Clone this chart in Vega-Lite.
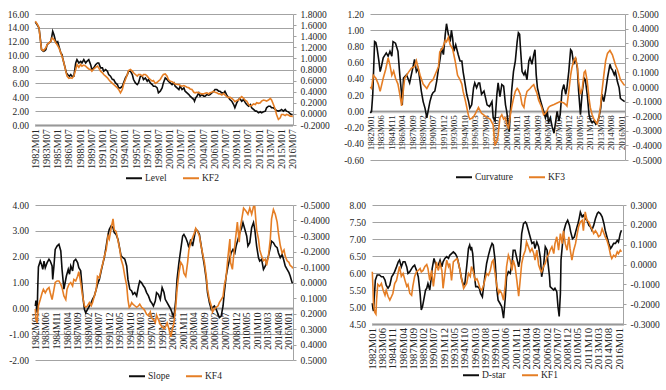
{
  "$schema": "https://vega.github.io/schema/vega-lite/v6.json",
  "padding": {"left": 7, "top": 9, "right": 4, "bottom": 4},
  "background": "white",
  "datasets": {
    "level": [{"m":0,"v":14.84},{"m":3,"v":14.45},{"m":6,"v":13.97},{"m":8,"v":12.5},{"m":10,"v":10.86},{"m":13,"v":10.62},{"m":15,"v":10.7},{"m":17,"v":10.86},{"m":19,"v":11.58},{"m":22,"v":11.82},{"m":25,"v":12.06},{"m":27,"v":13.0},{"m":28,"v":13.5},{"m":30,"v":13.0},{"m":32,"v":12.3},{"m":34,"v":11.82},{"m":36,"v":12.0},{"m":38,"v":11.34},{"m":41,"v":10.38},{"m":43,"v":10.14},{"m":44,"v":9.66},{"m":46,"v":8.94},{"m":48,"v":8.23},{"m":50,"v":7.51},{"m":52,"v":7.27},{"m":55,"v":7.03},{"m":57,"v":7.27},{"m":59,"v":7.03},{"m":62,"v":7.03},{"m":65,"v":8.94},{"m":67,"v":9.42},{"m":70,"v":8.94},{"m":73,"v":9.18},{"m":75,"v":8.94},{"m":78,"v":9.42},{"m":81,"v":8.94},{"m":83,"v":9.18},{"m":86,"v":9.42},{"m":89,"v":8.7},{"m":91,"v":7.99},{"m":94,"v":8.23},{"m":97,"v":8.7},{"m":100,"v":8.94},{"m":102,"v":8.94},{"m":105,"v":8.23},{"m":108,"v":8.23},{"m":110,"v":7.75},{"m":113,"v":7.99},{"m":116,"v":7.75},{"m":118,"v":7.27},{"m":121,"v":7.03},{"m":124,"v":6.55},{"m":126,"v":6.55},{"m":129,"v":6.07},{"m":132,"v":5.83},{"m":134,"v":5.35},{"m":137,"v":5.35},{"m":140,"v":5.59},{"m":142,"v":6.07},{"m":145,"v":6.79},{"m":148,"v":7.27},{"m":150,"v":7.75},{"m":153,"v":7.75},{"m":156,"v":7.27},{"m":158,"v":6.55},{"m":161,"v":6.07},{"m":164,"v":5.83},{"m":166,"v":6.07},{"m":169,"v":7.03},{"m":172,"v":7.03},{"m":174,"v":6.55},{"m":177,"v":6.79},{"m":180,"v":6.31},{"m":182,"v":6.55},{"m":185,"v":6.07},{"m":188,"v":5.83},{"m":190,"v":5.59},{"m":193,"v":5.59},{"m":196,"v":5.35},{"m":198,"v":4.63},{"m":201,"v":4.87},{"m":204,"v":5.35},{"m":206,"v":6.07},{"m":209,"v":6.79},{"m":212,"v":6.55},{"m":214,"v":6.31},{"m":217,"v":6.07},{"m":220,"v":5.83},{"m":223,"v":6.07},{"m":225,"v":5.59},{"m":228,"v":5.35},{"m":231,"v":5.11},{"m":233,"v":5.59},{"m":236,"v":5.11},{"m":239,"v":5.35},{"m":241,"v":4.87},{"m":244,"v":4.63},{"m":247,"v":4.39},{"m":249,"v":4.15},{"m":252,"v":3.91},{"m":255,"v":3.67},{"m":256,"v":3.43},{"m":258,"v":3.91},{"m":260,"v":4.15},{"m":263,"v":4.63},{"m":265,"v":4.15},{"m":268,"v":4.39},{"m":271,"v":4.15},{"m":273,"v":4.15},{"m":276,"v":4.39},{"m":279,"v":4.3},{"m":281,"v":4.39},{"m":284,"v":4.63},{"m":287,"v":4.87},{"m":289,"v":5.11},{"m":292,"v":5.11},{"m":295,"v":4.87},{"m":297,"v":4.87},{"m":300,"v":4.63},{"m":303,"v":4.63},{"m":305,"v":4.87},{"m":308,"v":4.3},{"m":311,"v":3.91},{"m":313,"v":3.67},{"m":316,"v":3.43},{"m":319,"v":2.95},{"m":321,"v":2.48},{"m":324,"v":3.19},{"m":327,"v":3.67},{"m":329,"v":3.82},{"m":332,"v":3.43},{"m":335,"v":3.67},{"m":338,"v":3.19},{"m":340,"v":2.95},{"m":343,"v":2.71},{"m":346,"v":2.95},{"m":348,"v":2.48},{"m":351,"v":2.24},{"m":354,"v":2.0},{"m":356,"v":2.0},{"m":359,"v":1.76},{"m":362,"v":1.9},{"m":364,"v":1.76},{"m":367,"v":1.9},{"m":370,"v":2.0},{"m":372,"v":2.48},{"m":375,"v":2.71},{"m":378,"v":2.71},{"m":380,"v":2.48},{"m":383,"v":2.48},{"m":386,"v":2.24},{"m":388,"v":2.09},{"m":391,"v":2.0},{"m":394,"v":2.09},{"m":396,"v":2.24},{"m":399,"v":2.0},{"m":402,"v":2.24},{"m":404,"v":2.0},{"m":407,"v":1.9},{"m":410,"v":1.61},{"m":412,"v":1.52},{"m":414,"v":1.5}],
    "kf2": [{"m":0,"v":1.67},{"m":3,"v":1.62},{"m":6,"v":1.55},{"m":8,"v":1.34},{"m":10,"v":1.16},{"m":13,"v":1.14},{"m":17,"v":1.19},{"m":19,"v":1.25},{"m":22,"v":1.28},{"m":25,"v":1.31},{"m":27,"v":1.37},{"m":30,"v":1.34},{"m":33,"v":1.28},{"m":35,"v":1.25},{"m":38,"v":1.19},{"m":41,"v":1.1},{"m":43,"v":1.04},{"m":46,"v":0.92},{"m":49,"v":0.77},{"m":51,"v":0.68},{"m":54,"v":0.64},{"m":57,"v":0.65},{"m":59,"v":0.64},{"m":62,"v":0.68},{"m":65,"v":0.8},{"m":67,"v":0.89},{"m":70,"v":0.84},{"m":73,"v":0.89},{"m":75,"v":0.86},{"m":78,"v":0.88},{"m":81,"v":0.86},{"m":83,"v":0.84},{"m":86,"v":0.81},{"m":89,"v":0.8},{"m":91,"v":0.77},{"m":94,"v":0.81},{"m":97,"v":0.84},{"m":100,"v":0.86},{"m":102,"v":0.83},{"m":105,"v":0.77},{"m":108,"v":0.74},{"m":110,"v":0.71},{"m":113,"v":0.68},{"m":116,"v":0.65},{"m":118,"v":0.62},{"m":121,"v":0.58},{"m":124,"v":0.55},{"m":126,"v":0.53},{"m":129,"v":0.5},{"m":132,"v":0.47},{"m":134,"v":0.44},{"m":137,"v":0.38},{"m":140,"v":0.44},{"m":142,"v":0.53},{"m":145,"v":0.62},{"m":148,"v":0.71},{"m":150,"v":0.78},{"m":153,"v":0.8},{"m":156,"v":0.77},{"m":158,"v":0.74},{"m":161,"v":0.71},{"m":164,"v":0.68},{"m":166,"v":0.71},{"m":169,"v":0.71},{"m":172,"v":0.68},{"m":174,"v":0.71},{"m":177,"v":0.71},{"m":180,"v":0.68},{"m":182,"v":0.65},{"m":185,"v":0.62},{"m":188,"v":0.59},{"m":190,"v":0.6},{"m":193,"v":0.55},{"m":196,"v":0.57},{"m":198,"v":0.59},{"m":201,"v":0.62},{"m":204,"v":0.68},{"m":206,"v":0.71},{"m":209,"v":0.72},{"m":212,"v":0.68},{"m":214,"v":0.62},{"m":217,"v":0.59},{"m":220,"v":0.58},{"m":223,"v":0.56},{"m":225,"v":0.54},{"m":228,"v":0.53},{"m":231,"v":0.53},{"m":233,"v":0.51},{"m":236,"v":0.5},{"m":239,"v":0.51},{"m":241,"v":0.5},{"m":244,"v":0.48},{"m":247,"v":0.47},{"m":249,"v":0.45},{"m":252,"v":0.44},{"m":255,"v":0.39},{"m":257,"v":0.38},{"m":260,"v":0.39},{"m":263,"v":0.38},{"m":265,"v":0.37},{"m":268,"v":0.36},{"m":271,"v":0.36},{"m":273,"v":0.37},{"m":276,"v":0.38},{"m":279,"v":0.36},{"m":281,"v":0.38},{"m":284,"v":0.39},{"m":287,"v":0.41},{"m":289,"v":0.39},{"m":292,"v":0.38},{"m":295,"v":0.36},{"m":297,"v":0.36},{"m":300,"v":0.34},{"m":303,"v":0.37},{"m":305,"v":0.34},{"m":308,"v":0.31},{"m":311,"v":0.29},{"m":313,"v":0.3},{"m":316,"v":0.28},{"m":319,"v":0.25},{"m":321,"v":0.22},{"m":324,"v":0.24},{"m":327,"v":0.25},{"m":329,"v":0.28},{"m":332,"v":0.31},{"m":335,"v":0.28},{"m":338,"v":0.24},{"m":340,"v":0.23},{"m":343,"v":0.17},{"m":346,"v":0.14},{"m":348,"v":0.15},{"m":351,"v":0.18},{"m":354,"v":0.17},{"m":356,"v":0.2},{"m":359,"v":0.19},{"m":362,"v":0.2},{"m":364,"v":0.23},{"m":367,"v":0.25},{"m":370,"v":0.24},{"m":372,"v":0.23},{"m":375,"v":0.25},{"m":378,"v":0.28},{"m":380,"v":0.25},{"m":383,"v":0.17},{"m":386,"v":0.08},{"m":388,"v":-0.01},{"m":391,"v":-0.1},{"m":394,"v":-0.07},{"m":396,"v":-0.01},{"m":399,"v":-0.01},{"m":402,"v":-0.03},{"m":404,"v":-0.01},{"m":407,"v":-0.02},{"m":410,"v":-0.04},{"m":412,"v":-0.04},{"m":414,"v":-0.05}],
    "curvature": [{"m":0,"v":-0.02},{"m":2,"v":0.0},{"m":4,"v":0.21},{"m":7,"v":0.86},{"m":9,"v":0.85},{"m":11,"v":0.78},{"m":14,"v":0.62},{"m":16,"v":0.49},{"m":18,"v":0.55},{"m":21,"v":0.66},{"m":26,"v":0.72},{"m":29,"v":0.68},{"m":32,"v":0.74},{"m":35,"v":0.68},{"m":37,"v":0.86},{"m":41,"v":0.84},{"m":45,"v":0.74},{"m":48,"v":0.45},{"m":51,"v":0.21},{"m":52,"v":0.08},{"m":54,"v":0.41},{"m":59,"v":0.45},{"m":64,"v":0.35},{"m":69,"v":0.53},{"m":72,"v":0.64},{"m":75,"v":0.49},{"m":78,"v":0.53},{"m":81,"v":0.37},{"m":83,"v":0.25},{"m":86,"v":0.12},{"m":89,"v":0.04},{"m":92,"v":-0.08},{"m":94,"v":0.0},{"m":97,"v":0.12},{"m":100,"v":0.2},{"m":102,"v":0.23},{"m":105,"v":0.25},{"m":108,"v":0.37},{"m":111,"v":0.53},{"m":113,"v":0.62},{"m":116,"v":0.78},{"m":119,"v":0.7},{"m":122,"v":0.95},{"m":124,"v":1.08},{"m":127,"v":0.95},{"m":130,"v":0.86},{"m":132,"v":1.0},{"m":134,"v":0.9},{"m":136,"v":0.74},{"m":139,"v":0.82},{"m":143,"v":0.7},{"m":146,"v":0.62},{"m":149,"v":0.62},{"m":151,"v":0.49},{"m":154,"v":0.35},{"m":157,"v":0.21},{"m":160,"v":0.12},{"m":162,"v":0.04},{"m":165,"v":0.08},{"m":168,"v":0.29},{"m":170,"v":0.35},{"m":173,"v":0.29},{"m":176,"v":0.35},{"m":178,"v":0.35},{"m":181,"v":0.21},{"m":185,"v":0.25},{"m":188,"v":0.15},{"m":190,"v":0.08},{"m":194,"v":0.06},{"m":198,"v":0.12},{"m":200,"v":-0.08},{"m":203,"v":-0.12},{"m":206,"v":0.21},{"m":208,"v":0.35},{"m":211,"v":0.18},{"m":214,"v":0.33},{"m":217,"v":0.31},{"m":220,"v":0.08},{"m":222,"v":0.0},{"m":224,"v":-0.12},{"m":226,"v":-0.25},{"m":228,"v":0.0},{"m":230,"v":0.25},{"m":233,"v":0.49},{"m":236,"v":0.62},{"m":239,"v":0.86},{"m":241,"v":0.97},{"m":243,"v":0.95},{"m":244,"v":0.82},{"m":247,"v":0.49},{"m":250,"v":0.45},{"m":252,"v":0.49},{"m":255,"v":0.39},{"m":258,"v":0.62},{"m":260,"v":0.66},{"m":263,"v":0.58},{"m":266,"v":0.7},{"m":268,"v":0.76},{"m":270,"v":0.45},{"m":272,"v":0.29},{"m":276,"v":0.16},{"m":279,"v":0.08},{"m":282,"v":0.0},{"m":285,"v":-0.08},{"m":288,"v":0.0},{"m":290,"v":-0.14},{"m":293,"v":-0.08},{"m":296,"v":-0.19},{"m":299,"v":-0.27},{"m":301,"v":-0.16},{"m":304,"v":0.0},{"m":307,"v":-0.12},{"m":309,"v":-0.04},{"m":312,"v":0.25},{"m":315,"v":0.33},{"m":318,"v":0.21},{"m":320,"v":0.29},{"m":323,"v":0.49},{"m":326,"v":0.76},{"m":328,"v":0.74},{"m":331,"v":0.58},{"m":334,"v":0.66},{"m":337,"v":0.53},{"m":339,"v":0.25},{"m":342,"v":-0.04},{"m":345,"v":0.25},{"m":348,"v":0.41},{"m":350,"v":0.39},{"m":353,"v":0.21},{"m":356,"v":-0.04},{"m":358,"v":-0.1},{"m":361,"v":-0.14},{"m":364,"v":-0.12},{"m":367,"v":-0.16},{"m":369,"v":-0.14},{"m":372,"v":-0.08},{"m":375,"v":0.04},{"m":377,"v":0.21},{"m":380,"v":0.12},{"m":383,"v":0.25},{"m":386,"v":0.41},{"m":390,"v":0.58},{"m":392,"v":0.53},{"m":394,"v":0.51},{"m":397,"v":0.45},{"m":399,"v":0.49},{"m":402,"v":0.37},{"m":405,"v":0.29},{"m":407,"v":0.16},{"m":410,"v":0.14},{"m":414,"v":0.12}],
    "kf3": [{"m":0,"v":0.0},{"m":2,"v":-0.01},{"m":5,"v":0.08},{"m":9,"v":0.06},{"m":13,"v":0.02},{"m":16,"v":-0.03},{"m":21,"v":0.06},{"m":25,"v":0.12},{"m":29,"v":0.2},{"m":32,"v":0.15},{"m":35,"v":0.08},{"m":38,"v":0.11},{"m":41,"v":0.06},{"m":45,"v":0.02},{"m":48,"v":-0.05},{"m":51,"v":-0.13},{"m":53,"v":-0.05},{"m":56,"v":0.06},{"m":62,"v":0.1},{"m":67,"v":0.13},{"m":72,"v":0.14},{"m":75,"v":0.18},{"m":78,"v":0.13},{"m":81,"v":0.08},{"m":86,"v":0.02},{"m":92,"v":-0.01},{"m":97,"v":0.03},{"m":102,"v":0.05},{"m":108,"v":0.11},{"m":111,"v":0.14},{"m":113,"v":0.24},{"m":118,"v":0.27},{"m":122,"v":0.32},{"m":124,"v":0.31},{"m":127,"v":0.34},{"m":130,"v":0.29},{"m":134,"v":0.26},{"m":138,"v":0.18},{"m":142,"v":0.08},{"m":146,"v":0.05},{"m":149,"v":0.02},{"m":151,"v":-0.03},{"m":154,"v":-0.08},{"m":157,"v":-0.14},{"m":160,"v":-0.2},{"m":162,"v":-0.22},{"m":167,"v":-0.21},{"m":170,"v":-0.19},{"m":176,"v":-0.14},{"m":181,"v":-0.18},{"m":184,"v":-0.19},{"m":190,"v":-0.21},{"m":195,"v":-0.22},{"m":200,"v":-0.26},{"m":203,"v":-0.4},{"m":206,"v":-0.37},{"m":208,"v":-0.33},{"m":211,"v":-0.21},{"m":214,"v":-0.19},{"m":217,"v":-0.22},{"m":220,"v":-0.21},{"m":222,"v":-0.26},{"m":225,"v":-0.28},{"m":228,"v":-0.19},{"m":230,"v":-0.14},{"m":233,"v":-0.08},{"m":236,"v":-0.03},{"m":239,"v":-0.01},{"m":241,"v":-0.02},{"m":244,"v":-0.05},{"m":247,"v":-0.12},{"m":250,"v":-0.14},{"m":252,"v":-0.08},{"m":255,"v":-0.03},{"m":260,"v":-0.01},{"m":263,"v":0.005},{"m":266,"v":0.016},{"m":269,"v":-0.02},{"m":271,"v":-0.04},{"m":274,"v":-0.09},{"m":277,"v":-0.12},{"m":279,"v":-0.14},{"m":282,"v":-0.19},{"m":285,"v":-0.18},{"m":288,"v":-0.16},{"m":290,"v":-0.14},{"m":293,"v":-0.13},{"m":299,"v":-0.12},{"m":304,"v":-0.11},{"m":309,"v":-0.1},{"m":315,"v":-0.11},{"m":318,"v":-0.12},{"m":320,"v":-0.13},{"m":323,"v":-0.03},{"m":326,"v":0.08},{"m":328,"v":0.13},{"m":331,"v":0.18},{"m":334,"v":0.2},{"m":337,"v":0.14},{"m":339,"v":0.04},{"m":342,"v":-0.05},{"m":345,"v":-0.01},{"m":348,"v":0.1},{"m":350,"v":0.11},{"m":353,"v":0.04},{"m":356,"v":-0.08},{"m":358,"v":-0.14},{"m":361,"v":-0.19},{"m":364,"v":-0.22},{"m":367,"v":-0.24},{"m":369,"v":-0.25},{"m":372,"v":-0.21},{"m":375,"v":-0.12},{"m":377,"v":-0.03},{"m":380,"v":0.08},{"m":383,"v":0.18},{"m":386,"v":0.23},{"m":390,"v":0.25},{"m":394,"v":0.22},{"m":397,"v":0.18},{"m":399,"v":0.15},{"m":402,"v":0.12},{"m":405,"v":0.08},{"m":407,"v":0.05},{"m":412,"v":0.02},{"m":414,"v":0.01}],
    "slope": [{"m":0,"v":0.09},{"m":1,"v":0.3},{"m":3,"v":-0.17},{"m":4,"v":0.86},{"m":5,"v":1.6},{"m":8,"v":1.83},{"m":10,"v":1.7},{"m":12,"v":1.51},{"m":14,"v":1.83},{"m":16,"v":1.57},{"m":19,"v":1.77},{"m":22,"v":1.9},{"m":24,"v":1.83},{"m":27,"v":1.64},{"m":28,"v":1.12},{"m":30,"v":1.64},{"m":32,"v":2.28},{"m":35,"v":2.41},{"m":38,"v":2.48},{"m":41,"v":2.22},{"m":43,"v":1.51},{"m":46,"v":0.74},{"m":48,"v":1.0},{"m":50,"v":1.25},{"m":53,"v":1.51},{"m":55,"v":1.32},{"m":57,"v":1.64},{"m":60,"v":1.45},{"m":62,"v":1.83},{"m":65,"v":1.9},{"m":68,"v":1.77},{"m":70,"v":1.57},{"m":73,"v":1.45},{"m":75,"v":0.9},{"m":77,"v":0.35},{"m":79,"v":-0.04},{"m":81,"v":-0.17},{"m":84,"v":-0.04},{"m":87,"v":0.09},{"m":90,"v":0.22},{"m":92,"v":0.35},{"m":95,"v":0.48},{"m":98,"v":0.74},{"m":100,"v":0.93},{"m":103,"v":1.12},{"m":106,"v":1.45},{"m":109,"v":1.77},{"m":111,"v":1.96},{"m":114,"v":2.41},{"m":117,"v":2.86},{"m":119,"v":3.06},{"m":122,"v":3.19},{"m":125,"v":3.12},{"m":127,"v":2.93},{"m":130,"v":2.86},{"m":133,"v":2.67},{"m":136,"v":2.28},{"m":138,"v":2.03},{"m":141,"v":1.96},{"m":144,"v":1.9},{"m":147,"v":1.64},{"m":149,"v":1.12},{"m":152,"v":0.74},{"m":155,"v":0.67},{"m":157,"v":0.54},{"m":160,"v":0.61},{"m":163,"v":0.48},{"m":166,"v":0.86},{"m":168,"v":1.06},{"m":171,"v":0.99},{"m":174,"v":0.86},{"m":176,"v":0.8},{"m":179,"v":0.61},{"m":182,"v":0.48},{"m":185,"v":0.28},{"m":187,"v":0.22},{"m":190,"v":0.09},{"m":193,"v":0.28},{"m":195,"v":0.61},{"m":198,"v":0.54},{"m":201,"v":0.35},{"m":204,"v":0.8},{"m":207,"v":0.61},{"m":209,"v":0.35},{"m":212,"v":0.22},{"m":215,"v":0.09},{"m":218,"v":-0.04},{"m":220,"v":-0.17},{"m":223,"v":-0.36},{"m":226,"v":0.35},{"m":228,"v":1.12},{"m":231,"v":1.77},{"m":234,"v":2.28},{"m":237,"v":2.8},{"m":239,"v":2.86},{"m":242,"v":2.73},{"m":245,"v":2.54},{"m":247,"v":2.35},{"m":250,"v":2.67},{"m":253,"v":2.41},{"m":256,"v":2.8},{"m":258,"v":3.06},{"m":261,"v":3.0},{"m":264,"v":2.86},{"m":266,"v":2.54},{"m":269,"v":2.09},{"m":272,"v":1.64},{"m":275,"v":1.12},{"m":277,"v":0.61},{"m":280,"v":0.22},{"m":283,"v":-0.04},{"m":285,"v":0.03},{"m":288,"v":0.09},{"m":291,"v":-0.04},{"m":294,"v":-0.23},{"m":296,"v":-0.36},{"m":299,"v":-0.3},{"m":302,"v":0.09},{"m":304,"v":0.61},{"m":307,"v":1.25},{"m":310,"v":1.64},{"m":313,"v":1.96},{"m":315,"v":2.15},{"m":318,"v":2.28},{"m":321,"v":2.15},{"m":323,"v":2.41},{"m":326,"v":2.67},{"m":329,"v":2.93},{"m":332,"v":3.12},{"m":334,"v":3.32},{"m":337,"v":3.06},{"m":340,"v":2.8},{"m":342,"v":2.41},{"m":345,"v":2.54},{"m":348,"v":3.12},{"m":351,"v":3.32},{"m":353,"v":3.06},{"m":356,"v":2.41},{"m":359,"v":1.96},{"m":361,"v":1.83},{"m":364,"v":1.9},{"m":367,"v":1.51},{"m":370,"v":1.64},{"m":372,"v":1.77},{"m":375,"v":2.03},{"m":378,"v":2.35},{"m":380,"v":2.6},{"m":383,"v":2.54},{"m":386,"v":2.41},{"m":389,"v":2.35},{"m":391,"v":2.15},{"m":394,"v":1.96},{"m":397,"v":2.09},{"m":400,"v":1.83},{"m":402,"v":1.64},{"m":405,"v":1.51},{"m":408,"v":1.38},{"m":410,"v":1.25},{"m":413,"v":1.0},{"m":414,"v":0.98}],
    "kf4": [{"m":0,"v":0.17},{"m":1,"v":0.24},{"m":3,"v":0.26},{"m":5,"v":0.15},{"m":8,"v":0.11},{"m":11,"v":0.066},{"m":13,"v":0.044},{"m":16,"v":0.066},{"m":19,"v":0.044},{"m":22,"v":0.033},{"m":24,"v":0.066},{"m":27,"v":0.11},{"m":30,"v":0.044},{"m":32,"v":0.0},{"m":35,"v":-0.01},{"m":38,"v":-0.01},{"m":41,"v":0.012},{"m":43,"v":0.033},{"m":46,"v":0.087},{"m":49,"v":0.11},{"m":51,"v":0.044},{"m":54,"v":0.012},{"m":57,"v":0.0},{"m":60,"v":0.022},{"m":62,"v":-0.02},{"m":65,"v":-0.01},{"m":68,"v":-0.04},{"m":70,"v":-0.07},{"m":73,"v":0.0},{"m":76,"v":0.087},{"m":79,"v":0.15},{"m":81,"v":0.16},{"m":84,"v":0.15},{"m":87,"v":0.13},{"m":90,"v":0.15},{"m":92,"v":0.13},{"m":95,"v":0.087},{"m":98,"v":0.044},{"m":100,"v":-0.04},{"m":103,"v":-0.03},{"m":106,"v":-0.085},{"m":109,"v":-0.13},{"m":111,"v":-0.17},{"m":114,"v":-0.21},{"m":117,"v":-0.3},{"m":119,"v":-0.28},{"m":122,"v":-0.35},{"m":125,"v":-0.41},{"m":127,"v":-0.34},{"m":130,"v":-0.33},{"m":133,"v":-0.27},{"m":136,"v":-0.21},{"m":138,"v":-0.15},{"m":141,"v":-0.11},{"m":144,"v":-0.04},{"m":147,"v":0.02},{"m":149,"v":0.11},{"m":151,"v":0.16},{"m":153,"v":0.15},{"m":155,"v":0.13},{"m":157,"v":0.14},{"m":160,"v":0.15},{"m":163,"v":0.16},{"m":166,"v":0.15},{"m":168,"v":0.14},{"m":171,"v":0.16},{"m":174,"v":0.17},{"m":176,"v":0.18},{"m":179,"v":0.205},{"m":182,"v":0.215},{"m":185,"v":0.19},{"m":187,"v":0.23},{"m":190,"v":0.24},{"m":193,"v":0.26},{"m":195,"v":0.21},{"m":198,"v":0.24},{"m":201,"v":0.27},{"m":203,"v":0.28},{"m":207,"v":0.3},{"m":209,"v":0.29},{"m":212,"v":0.26},{"m":215,"v":0.3},{"m":218,"v":0.35},{"m":220,"v":0.31},{"m":223,"v":0.26},{"m":226,"v":0.15},{"m":228,"v":0.044},{"m":231,"v":-0.06},{"m":234,"v":-0.13},{"m":237,"v":-0.11},{"m":239,"v":-0.06},{"m":242,"v":-0.04},{"m":245,"v":-0.13},{"m":247,"v":-0.21},{"m":250,"v":-0.26},{"m":253,"v":-0.29},{"m":256,"v":-0.32},{"m":258,"v":-0.35},{"m":261,"v":-0.33},{"m":264,"v":-0.3},{"m":266,"v":-0.25},{"m":269,"v":-0.19},{"m":272,"v":-0.13},{"m":275,"v":-0.04},{"m":277,"v":0.044},{"m":280,"v":0.11},{"m":283,"v":0.15},{"m":285,"v":0.19},{"m":288,"v":0.17},{"m":291,"v":0.16},{"m":294,"v":0.15},{"m":296,"v":0.13},{"m":299,"v":0.11},{"m":302,"v":0.09},{"m":304,"v":0.02},{"m":307,"v":-0.04},{"m":310,"v":-0.17},{"m":313,"v":-0.28},{"m":314,"v":-0.13},{"m":317,"v":-0.085},{"m":319,"v":-0.17},{"m":322,"v":-0.28},{"m":325,"v":-0.39},{"m":328,"v":-0.26},{"m":330,"v":-0.36},{"m":333,"v":-0.43},{"m":335,"v":-0.48},{"m":339,"v":-0.46},{"m":342,"v":-0.44},{"m":345,"v":-0.48},{"m":348,"v":-0.44},{"m":351,"v":-0.49},{"m":353,"v":-0.49},{"m":356,"v":-0.34},{"m":359,"v":-0.28},{"m":361,"v":-0.21},{"m":364,"v":-0.17},{"m":367,"v":-0.14},{"m":370,"v":-0.15},{"m":372,"v":-0.11},{"m":375,"v":-0.17},{"m":378,"v":-0.28},{"m":380,"v":-0.41},{"m":383,"v":-0.47},{"m":386,"v":-0.44},{"m":389,"v":-0.39},{"m":391,"v":-0.32},{"m":394,"v":-0.24},{"m":397,"v":-0.19},{"m":400,"v":-0.21},{"m":402,"v":-0.17},{"m":405,"v":-0.14},{"m":408,"v":-0.13},{"m":410,"v":-0.11},{"m":413,"v":-0.1},{"m":414,"v":-0.09}],
    "dstar": [{"m":0,"v":5.11},{"m":1,"v":4.95},{"m":2,"v":4.88},{"m":3,"v":5.2},{"m":5,"v":5.79},{"m":8,"v":5.94},{"m":12,"v":5.94},{"m":15,"v":5.89},{"m":18,"v":5.89},{"m":21,"v":5.79},{"m":23,"v":5.64},{"m":26,"v":5.55},{"m":29,"v":5.64},{"m":32,"v":5.89},{"m":34,"v":5.94},{"m":37,"v":6.04},{"m":40,"v":6.18},{"m":43,"v":6.33},{"m":45,"v":6.38},{"m":48,"v":6.18},{"m":51,"v":6.33},{"m":54,"v":6.33},{"m":57,"v":6.18},{"m":59,"v":5.99},{"m":62,"v":6.04},{"m":65,"v":6.13},{"m":67,"v":6.18},{"m":70,"v":6.23},{"m":73,"v":6.08},{"m":76,"v":5.89},{"m":79,"v":5.4},{"m":81,"v":4.91},{"m":83,"v":5.01},{"m":86,"v":5.3},{"m":88,"v":5.5},{"m":90,"v":5.55},{"m":92,"v":5.69},{"m":95,"v":5.5},{"m":97,"v":5.79},{"m":99,"v":6.13},{"m":102,"v":6.43},{"m":106,"v":6.18},{"m":109,"v":6.23},{"m":112,"v":6.38},{"m":115,"v":6.18},{"m":117,"v":6.33},{"m":120,"v":6.43},{"m":123,"v":6.48},{"m":126,"v":6.43},{"m":128,"v":6.52},{"m":131,"v":6.57},{"m":134,"v":6.62},{"m":137,"v":6.57},{"m":140,"v":6.48},{"m":142,"v":6.33},{"m":145,"v":6.08},{"m":148,"v":5.79},{"m":151,"v":5.64},{"m":153,"v":5.69},{"m":156,"v":6.18},{"m":159,"v":6.72},{"m":161,"v":6.82},{"m":163,"v":6.67},{"m":164,"v":6.77},{"m":166,"v":6.57},{"m":169,"v":5.89},{"m":171,"v":5.6},{"m":174,"v":5.6},{"m":177,"v":5.55},{"m":179,"v":5.4},{"m":182,"v":5.3},{"m":184,"v":5.6},{"m":186,"v":5.89},{"m":189,"v":6.28},{"m":192,"v":6.52},{"m":195,"v":6.72},{"m":198,"v":6.87},{"m":200,"v":6.82},{"m":203,"v":6.38},{"m":206,"v":5.5},{"m":208,"v":5.2},{"m":211,"v":5.11},{"m":214,"v":5.01},{"m":217,"v":4.67},{"m":220,"v":5.3},{"m":222,"v":5.89},{"m":225,"v":6.04},{"m":228,"v":5.99},{"m":231,"v":6.28},{"m":233,"v":6.67},{"m":236,"v":6.67},{"m":239,"v":6.43},{"m":242,"v":6.18},{"m":244,"v":6.38},{"m":247,"v":7.16},{"m":250,"v":7.45},{"m":253,"v":7.5},{"m":255,"v":7.45},{"m":258,"v":7.26},{"m":261,"v":7.06},{"m":264,"v":6.87},{"m":267,"v":6.91},{"m":269,"v":6.72},{"m":272,"v":6.91},{"m":275,"v":6.77},{"m":278,"v":6.43},{"m":280,"v":5.89},{"m":283,"v":6.18},{"m":286,"v":6.77},{"m":289,"v":6.67},{"m":290,"v":6.38},{"m":293,"v":5.89},{"m":294,"v":5.6},{"m":297,"v":5.55},{"m":300,"v":5.5},{"m":302,"v":5.55},{"m":305,"v":5.45},{"m":307,"v":5.01},{"m":309,"v":4.72},{"m":311,"v":5.4},{"m":312,"v":6.38},{"m":315,"v":6.96},{"m":317,"v":7.26},{"m":320,"v":7.45},{"m":323,"v":7.55},{"m":326,"v":7.4},{"m":328,"v":7.21},{"m":331,"v":7.01},{"m":334,"v":7.06},{"m":337,"v":7.26},{"m":340,"v":7.45},{"m":342,"v":7.6},{"m":344,"v":7.79},{"m":347,"v":7.65},{"m":349,"v":7.7},{"m":352,"v":7.6},{"m":355,"v":7.55},{"m":358,"v":7.4},{"m":361,"v":7.35},{"m":363,"v":7.26},{"m":366,"v":7.4},{"m":369,"v":7.6},{"m":372,"v":7.75},{"m":374,"v":7.79},{"m":377,"v":7.75},{"m":380,"v":7.65},{"m":383,"v":7.45},{"m":385,"v":7.26},{"m":388,"v":7.06},{"m":391,"v":6.87},{"m":394,"v":6.72},{"m":396,"v":6.77},{"m":399,"v":6.87},{"m":402,"v":6.87},{"m":405,"v":6.96},{"m":407,"v":6.91},{"m":410,"v":7.16},{"m":412,"v":7.26}],
    "kf1": [{"m":0,"v":-0.037},{"m":1,"v":-0.11},{"m":2,"v":-0.2},{"m":4,"v":-0.24},{"m":6,"v":-0.25},{"m":7,"v":-0.18},{"m":9,"v":-0.1},{"m":12,"v":-0.11},{"m":15,"v":-0.096},{"m":18,"v":-0.13},{"m":21,"v":-0.155},{"m":23,"v":-0.13},{"m":26,"v":-0.16},{"m":29,"v":-0.18},{"m":32,"v":-0.16},{"m":34,"v":-0.146},{"m":37,"v":-0.096},{"m":40,"v":-0.08},{"m":43,"v":-0.037},{"m":45,"v":-0.01},{"m":48,"v":-0.06},{"m":51,"v":-0.045},{"m":54,"v":-0.08},{"m":57,"v":-0.11},{"m":59,"v":-0.1},{"m":62,"v":-0.146},{"m":65,"v":-0.155},{"m":67,"v":-0.11},{"m":70,"v":-0.06},{"m":73,"v":-0.037},{"m":76,"v":-0.03},{"m":79,"v":-0.02},{"m":81,"v":-0.037},{"m":84,"v":-0.03},{"m":87,"v":-0.01},{"m":90,"v":0.0},{"m":92,"v":-0.02},{"m":95,"v":-0.08},{"m":98,"v":-0.03},{"m":101,"v":-0.11},{"m":103,"v":-0.06},{"m":106,"v":0.013},{"m":109,"v":-0.03},{"m":112,"v":0.005},{"m":115,"v":-0.03},{"m":117,"v":-0.12},{"m":120,"v":-0.045},{"m":123,"v":0.022},{"m":126,"v":-0.01},{"m":128,"v":0.005},{"m":131,"v":-0.08},{"m":134,"v":0.013},{"m":137,"v":0.022},{"m":140,"v":0.03},{"m":142,"v":0.013},{"m":145,"v":-0.03},{"m":148,"v":-0.08},{"m":151,"v":-0.12},{"m":153,"v":-0.11},{"m":156,"v":-0.096},{"m":159,"v":-0.045},{"m":162,"v":-0.06},{"m":164,"v":-0.01},{"m":167,"v":-0.037},{"m":170,"v":-0.08},{"m":173,"v":-0.072},{"m":175,"v":-0.087},{"m":178,"v":-0.12},{"m":181,"v":-0.13},{"m":184,"v":-0.105},{"m":186,"v":-0.08},{"m":189,"v":-0.045},{"m":192,"v":-0.054},{"m":195,"v":-0.03},{"m":198,"v":0.013},{"m":200,"v":0.022},{"m":203,"v":-0.045},{"m":206,"v":-0.11},{"m":209,"v":-0.146},{"m":211,"v":-0.13},{"m":214,"v":-0.146},{"m":217,"v":-0.18},{"m":220,"v":-0.096},{"m":222,"v":-0.01},{"m":225,"v":0.047},{"m":228,"v":0.022},{"m":231,"v":-0.03},{"m":233,"v":0.022},{"m":236,"v":-0.01},{"m":239,"v":-0.08},{"m":242,"v":-0.16},{"m":244,"v":-0.096},{"m":247,"v":0.005},{"m":250,"v":0.047},{"m":253,"v":0.072},{"m":255,"v":0.114},{"m":258,"v":0.09},{"m":261,"v":0.064},{"m":264,"v":0.08},{"m":267,"v":0.055},{"m":269,"v":0.022},{"m":272,"v":0.072},{"m":275,"v":-0.003},{"m":278,"v":-0.03},{"m":280,"v":-0.037},{"m":283,"v":-0.01},{"m":286,"v":0.005},{"m":289,"v":0.04},{"m":291,"v":0.047},{"m":294,"v":0.072},{"m":297,"v":0.09},{"m":300,"v":0.055},{"m":302,"v":0.105},{"m":305,"v":0.14},{"m":308,"v":0.072},{"m":311,"v":0.156},{"m":314,"v":0.105},{"m":316,"v":0.17},{"m":319,"v":0.105},{"m":322,"v":0.072},{"m":325,"v":0.14},{"m":327,"v":0.08},{"m":330,"v":0.022},{"m":333,"v":0.072},{"m":336,"v":0.105},{"m":338,"v":0.14},{"m":341,"v":0.19},{"m":344,"v":0.215},{"m":347,"v":0.223},{"m":349,"v":0.17},{"m":352,"v":0.265},{"m":355,"v":0.223},{"m":358,"v":0.215},{"m":361,"v":0.19},{"m":363,"v":0.18},{"m":366,"v":0.156},{"m":369,"v":0.17},{"m":372,"v":0.156},{"m":374,"v":0.14},{"m":377,"v":0.147},{"m":380,"v":0.18},{"m":383,"v":0.156},{"m":385,"v":0.14},{"m":388,"v":0.122},{"m":391,"v":0.09},{"m":394,"v":0.047},{"m":396,"v":0.03},{"m":399,"v":0.047},{"m":402,"v":0.039},{"m":405,"v":0.064},{"m":407,"v":0.055},{"m":410,"v":0.072},{"m":412,"v":0.064}]
  },
  "vconcat": [
    {
      "hconcat": [
        {
          "width": 258, "height": 111,
          "encoding": {"x": {"field": "m", "type": "quantitative", "title": null,
            "scale": {"domain": [-0.5, 414.5], "nice": false, "zero": false},
            "axis": {"values": [0,18,36,54,72,90,108,126,144,162,180,198,216,234,252,270,288,306,324,342,360,378,396,414],
              "labelExpr": "format(1982 + floor(datum.value / 12), 'd') + 'M' + (datum.value % 12 < 9 ? '0' : '') + format(datum.value % 12 + 1, 'd')",
              "labelFontSize": 10.3, "grid": false}}},
          "layer": [
            {"data": {"name": "level"}, "mark": {"type": "line", "strokeWidth": 1.6},
             "encoding": {
               "y": {"field": "v", "type": "quantitative", "title": null, "scale": {"domain": [0, 16], "nice": false, "zero": false},
                 "axis": {"orient": "left", "values": [0,2,4,6,8,10,12,14,16], "labelExpr": "replace(format(datum.value, '.2f'), '\u2212', '-')"}},
               "color": {"datum": "Level", "type": "nominal", "scale": {"domain": ["Level", "KF2"], "range": ["#0d0d0d", "#E57E25"]},
                 "legend": {"title": null, "legendX": 90, "legendY": 155}}}},
            {"data": {"name": "kf2"}, "mark": {"type": "line", "strokeWidth": 1.6},
             "encoding": {
               "y": {"field": "v", "type": "quantitative", "title": null, "scale": {"domain": [-0.2, 1.8], "nice": false, "zero": false},
                 "axis": {"orient": "right", "values": [-0.2,0,0.2,0.4,0.6,0.8,1.0,1.2,1.4,1.6,1.8], "labelExpr": "replace(format(datum.value, '.4f'), '\u2212', '-')"}},
               "color": {"datum": "KF2", "type": "nominal"}}}
          ],
          "resolve": {"scale": {"y": "independent"}}
        },
        {
          "width": 255, "height": 146,
          "encoding": {"x": {"field": "m", "type": "quantitative", "title": null,
            "scale": {"domain": [-0.5, 414.5], "nice": false, "zero": false},
            "axis": {"values": [0,17,34,51,68,85,102,119,136,153,170,187,204,221,238,255,272,289,306,323,340,357,374,391,408],
              "labelExpr": "format(1982 + floor(datum.value / 12), 'd') + 'M' + (datum.value % 12 < 9 ? '0' : '') + format(datum.value % 12 + 1, 'd')",
              "labelFontSize": 9, "offset": -48.67, "grid": false}}},
          "layer": [
            {"data": {"name": "curvature"}, "mark": {"type": "line", "strokeWidth": 1.6},
             "encoding": {
               "y": {"field": "v", "type": "quantitative", "title": null, "scale": {"domain": [-0.6, 1.2], "nice": false, "zero": false},
                 "axis": {"orient": "left", "values": [-0.6,-0.4,-0.2,0,0.2,0.4,0.6,0.8,1.0,1.2], "labelExpr": "replace(format(datum.value, '.2f'), '\u2212', '-')"}},
               "color": {"datum": "Curvature", "type": "nominal", "scale": {"domain": ["Curvature", "KF3"], "range": ["#0d0d0d", "#E57E25"]},
                 "legend": {"title": null, "legendX": 85, "legendY": 154}}}},
            {"data": {"name": "kf3"}, "mark": {"type": "line", "strokeWidth": 1.6},
             "encoding": {
               "y": {"field": "v", "type": "quantitative", "title": null, "scale": {"domain": [-0.5, 0.5], "nice": false, "zero": false},
                 "axis": {"orient": "right", "values": [-0.5,-0.4,-0.3,-0.2,-0.1,0,0.1,0.2,0.3,0.4,0.5], "labelExpr": "replace(format(datum.value, '.4f'), '\u2212', '-')"}},
               "color": {"datum": "KF3", "type": "nominal"}}}
          ],
          "resolve": {"scale": {"y": "independent"}}
        }
      ],
      "spacing": 13,
      "resolve": {"scale": {"color": "independent"}, "legend": {"color": "independent"}}
    },
    {
      "hconcat": [
        {
          "width": 258, "height": 155,
          "encoding": {"x": {"field": "m", "type": "quantitative", "title": null,
            "scale": {"domain": [-0.5, 414.5], "nice": false, "zero": false},
            "axis": {"values": [0,17,34,51,68,85,102,119,136,153,170,187,204,221,238,255,272,289,306,323,340,357,374,391,408],
              "labelExpr": "format(1982 + floor(datum.value / 12), 'd') + 'M' + (datum.value % 12 < 9 ? '0' : '') + format(datum.value % 12 + 1, 'd')",
              "labelFontSize": 9.6, "offset": -51.67, "grid": false}}},
          "layer": [
            {"data": {"name": "slope"}, "mark": {"type": "line", "strokeWidth": 1.6},
             "encoding": {
               "y": {"field": "v", "type": "quantitative", "title": null, "scale": {"domain": [-2, 4], "nice": false, "zero": false},
                 "axis": {"orient": "left", "values": [-2,-1,0,1,2,3,4], "labelExpr": "replace(format(datum.value, '.2f'), '\u2212', '-')"}},
               "color": {"datum": "Slope", "type": "nominal", "scale": {"domain": ["Slope", "KF4"], "range": ["#0d0d0d", "#E57E25"]},
                 "legend": {"title": null, "legendX": 93, "legendY": 162}}}},
            {"data": {"name": "kf4"}, "mark": {"type": "line", "strokeWidth": 1.6},
             "encoding": {
               "y": {"field": "v", "type": "quantitative", "title": null, "scale": {"domain": [-0.5, 0.5], "reverse": true, "nice": false, "zero": false},
                 "axis": {"orient": "right", "values": [-0.5,-0.4,-0.3,-0.2,-0.1,0,0.1,0.2,0.3,0.4,0.5], "labelExpr": "replace(format(datum.value, '.4f'), '\u2212', '-')"}},
               "color": {"datum": "KF4", "type": "nominal"}}}
          ],
          "resolve": {"scale": {"y": "independent"}}
        },
        {
          "width": 251, "height": 119,
          "encoding": {"x": {"field": "m", "type": "quantitative", "title": null,
            "scale": {"domain": [-0.5, 414.5], "nice": false, "zero": false},
            "axis": {"values": [0,17,34,51,68,85,102,119,136,153,170,187,204,221,238,255,272,289,306,323,340,357,374,391,408],
              "labelExpr": "format(1982 + floor(datum.value / 12), 'd') + 'M' + (datum.value % 12 < 9 ? '0' : '') + format(datum.value % 12 + 1, 'd')",
              "labelFontSize": 10.7, "grid": false}}},
          "layer": [
            {"data": {"name": "dstar"}, "mark": {"type": "line", "strokeWidth": 1.6},
             "encoding": {
               "y": {"field": "v", "type": "quantitative", "title": null, "scale": {"domain": [4.5, 8], "nice": false, "zero": false},
                 "axis": {"orient": "left", "values": [4.5,5,5.5,6,6.5,7,7.5,8], "labelExpr": "replace(format(datum.value, '.2f'), '\u2212', '-')"}},
               "color": {"datum": "D-star", "type": "nominal", "scale": {"domain": ["D-star", "KF1"], "range": ["#0d0d0d", "#E57E25"]},
                 "legend": {"title": null, "legendX": 90, "legendY": 161}}}},
            {"data": {"name": "kf1"}, "mark": {"type": "line", "strokeWidth": 1.6},
             "encoding": {
               "y": {"field": "v", "type": "quantitative", "title": null, "scale": {"domain": [-0.3, 0.3], "nice": false, "zero": false},
                 "axis": {"orient": "right", "values": [-0.3,-0.2,-0.1,0,0.1,0.2,0.3], "labelExpr": "replace(format(datum.value, '.4f'), '\u2212', '-')"}},
               "color": {"datum": "KF1", "type": "nominal"}}}
          ],
          "resolve": {"scale": {"y": "independent"}}
        }
      ],
      "spacing": 18,
      "resolve": {"scale": {"color": "independent"}, "legend": {"color": "independent"}}
    }
  ],
  "spacing": 17,
  "resolve": {"scale": {"color": "independent"}, "legend": {"color": "independent"}},
  "config": {
    "font": "Liberation Serif",
    "view": {"stroke": null},
    "axis": {"labelFont": "Liberation Serif", "labelColor": "#262626", "labelFontSize": 9.5, "gridColor": "#a3a3a3", "gridWidth": 1, "domainColor": "#a3a3a3", "tickColor": "#a3a3a3"},
    "axisLeft": {"grid": true, "domain": false, "ticks": false, "tickSize": 0, "labelPadding": 6.5},
    "axisRight": {"grid": false, "domain": true, "ticks": true, "tickSize": 3, "labelPadding": 4, "labelAlign": "left"},
    "axisBottom": {"grid": false, "ticks": false, "tickSize": 0, "domainWidth": 3, "domainDash": [1, 1], "domainColor": "#8c8c8c", "labelAngle": 270, "labelPadding": 3.5, "labelOverlap": false, "labelFlush": false, "zindex": 1},
    "legend": {"orient": "none", "direction": "horizontal", "labelFont": "Liberation Serif", "labelFontSize": 9.5, "labelColor": "#262626", "symbolType": "stroke", "symbolSize": 256, "symbolStrokeWidth": 2, "columnPadding": 12, "labelOffset": 2}
  }
}
